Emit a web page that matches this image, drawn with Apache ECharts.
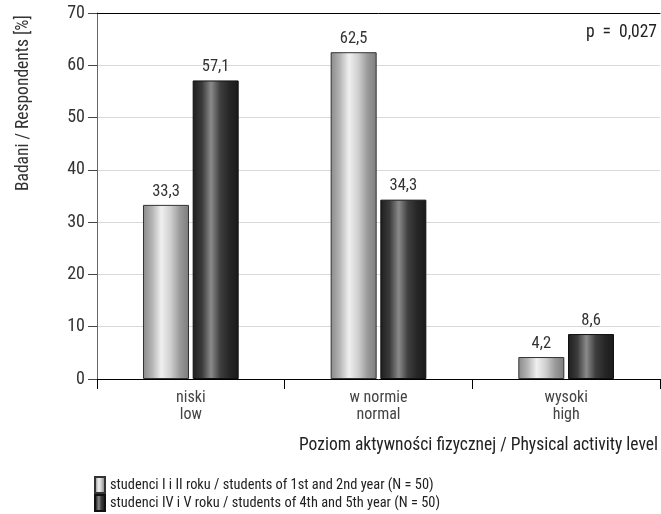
<!DOCTYPE html>
<html><head><meta charset="utf-8">
<script src="https://cdn.jsdelivr.net/npm/echarts@6/dist/echarts.min.js"></script>
<style>html,body{margin:0;padding:0;background:#fff}#c{width:661px;height:514px}</style>
</head><body><div id="c"></div>
<script>
const categories = ['niski\nlow', 'w normie\nnormal', 'wysoki\nhigh'];
const seriesNames = ['studenci I i II roku / students of 1st and 2nd year (N = 50)', 'studenci IV i V roku / students of 4th and 5th year (N = 50)'];
const valuesYear12 = [33.3, 62.5, 4.2];
const valuesYear45 = [57.1, 34.3, 8.6];
const yTicks = [0, 10, 20, 30, 40, 50, 60, 70];

const FONT = "'Liberation Sans Narrow', 'Roboto Condensed', Roboto, sans-serif";
const chart = echarts.init(document.getElementById('c'), null, {renderer: 'canvas'});

function grad(stops) {
  return new echarts.graphic.LinearGradient(0, 0, 1, 0, stops.map((c, i) => ({offset: i / (stops.length - 1), color: c})));
}
const lightGrad = grad(['#8a8a8a', '#b4b4b4', '#f0f0f0', '#cfcfcf', '#9a9a9a', '#7c7c7c']);
const darkGrad = grad(['#1e1e1e', '#3a3a3a', '#8a8a8a', '#3e3e3e', '#262626', '#1a1a1a']);

const fmt = v => String(v).replace('.', ',');
const legendText = {fontFamily: FONT, fontSize: 14.4, color: '#222'};

chart.setOption({
  animation: false,
  textStyle: {fontFamily: FONT},
  grid: {left: 97, right: 1, top: 13, bottom: 135, containLabel: false},
  legend: [{
    orient: 'vertical', left: 89, top: 471, itemWidth: 10, itemHeight: 16, icon: 'rect',
    textStyle: legendText, data: [seriesNames[0]]
  }, {
    orient: 'vertical', left: 89, top: 489, itemWidth: 10, itemHeight: 16, icon: 'rect',
    textStyle: legendText, data: [seriesNames[1]]
  }],
  xAxis: [{
    type: 'category', data: categories,
    axisLine: {lineStyle: {color: '#000', width: 1}},
    axisTick: {show: true, length: 10, lineStyle: {color: '#000'}},
    axisLabel: {fontFamily: FONT, fontSize: 16, color: '#444', lineHeight: 17, margin: 10}
  }, {
    type: 'category', position: 'top', data: categories,
    axisLine: {show: true, lineStyle: {color: '#000'}},
    axisTick: {show: false}, axisLabel: {show: false}
  }],
  yAxis: {
    type: 'value', min: yTicks[0], max: yTicks[yTicks.length - 1], interval: 10,
    axisLine: {show: true, lineStyle: {color: '#666', width: 1}},
    axisTick: {show: true, length: 9, inside: false, lineStyle: {color: '#444'}},
    axisLabel: {fontFamily: FONT, fontSize: 18, color: '#333', margin: 12},
    splitLine: {show: true, lineStyle: {color: '#d9d9d9', width: 1}}
  },
  series: [{
    name: seriesNames[0], type: 'bar', data: valuesYear12,
    barWidth: 46, barGap: '8%',
    itemStyle: {color: lightGrad, borderColor: '#333', borderWidth: 1},
    label: {show: true, position: 'top', distance: 5, fontFamily: FONT, fontSize: 16.5, color: '#333', formatter: p => fmt(p.value)}
  }, {
    name: seriesNames[1], type: 'bar', data: valuesYear45,
    barWidth: 46, barGap: '8%',
    itemStyle: {color: darkGrad, borderColor: '#111', borderWidth: 1},
    label: {show: true, position: 'top', distance: 5, fontFamily: FONT, fontSize: 16.5, color: '#333', formatter: p => fmt(p.value)}
  }],
  graphic: [{
    type: 'text', right: 4, top: 24,
    style: {text: 'p  =  0,027', font: '17.5px ' + FONT, fill: '#222'}
  }, {
    type: 'text', right: 3, top: 437,
    style: {text: 'Poziom aktywności fizycznej / Physical activity level', font: '17.5px ' + FONT, fill: '#222'}
  }, {
    type: 'text', x: 15, y: 191, rotation: Math.PI / 2,
    style: {text: 'Badani / Respondents [%]', font: '17.5px ' + FONT, fill: '#333', align: 'left', verticalAlign: 'top'}
  }]
});
</script></body></html>
